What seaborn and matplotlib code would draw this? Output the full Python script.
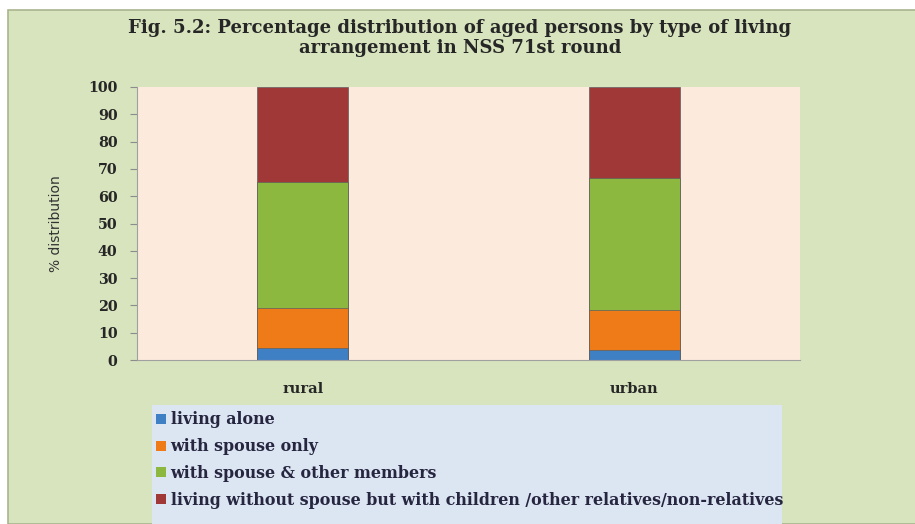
import numpy as np
import pandas as pd
import seaborn as sns
import matplotlib.pyplot as plt
from matplotlib.patches import Rectangle, Patch

# data
sectors = ["rural", "urban"]
living_alone = [4.4, 3.8]
spouse_only = [14.7, 14.5]
spouse_others = [46.2, 48.4]
without_spouse = [34.7, 33.3]

series_names = ["living alone", "with spouse only", "with spouse & other members",
                "living without spouse but with children /other relatives/non-relatives"]
series_colors = ["#3F7FC4", "#EE7A18", "#8CB840", "#A03838"]

sns.set_style("white")
plt.rcParams["font.family"] = ["DejaVu Serif"]

df = pd.DataFrame({"sector": sectors,
                   series_names[0]: living_alone,
                   series_names[1]: spouse_only,
                   series_names[2]: spouse_others,
                   series_names[3]: without_spouse})
cum = df[series_names].cumsum(axis=1)

W, H = 915, 524
fig = plt.figure(figsize=(W / 100, H / 100), dpi=100)
fig.patch.set_facecolor("white")

# green panel behind everything
fig.patches.append(Rectangle((8 / W, 0), 1, 1 - 10 / H, transform=fig.transFigure,
                             facecolor="#D8E4BE", edgecolor="#A9B48F", lw=1.2, zorder=-2))
# legend background
fig.patches.append(Rectangle((152 / W, 0), (782 - 152) / W, (H - 405) / H,
                             transform=fig.transFigure, facecolor="#DCE5F2",
                             edgecolor="none", zorder=-1))

ax = fig.add_axes([137 / W, (H - 360) / H, (800 - 137) / W, (360 - 87) / H])
ax.set_facecolor("#FCEADC")

# stacked bars drawn as overlapping cumulative totals, tallest first
for name, col in reversed(list(zip(series_names, series_colors))):
    sns.barplot(x=df["sector"], y=cum[name], color=col, width=0.275,
                saturation=1, edgecolor="#5e5e5e", linewidth=0.5, ax=ax)

ax.set_ylim(0, 100)
ax.set_yticks(np.arange(0, 101, 10))
ax.tick_params(axis="y", labelsize=10.3, length=5, color="#8c8c8c", left=True, pad=9)
ax.tick_params(axis="x", labelsize=10.5, length=0, pad=16)
for lab in ax.get_yticklabels() + ax.get_xticklabels():
    lab.set_fontweight("bold")
    lab.set_color("#262626")
for s in ["top", "right"]:
    ax.spines[s].set_visible(False)
ax.spines["left"].set_color("#a0a0a0")
ax.spines["bottom"].set_color("#a0a0a0")
ax.set_xlabel("")
ax.set_ylabel("% distribution", fontsize=10, family=["DejaVu Sans"],
              labelpad=18, color="#333333")

fig.text(460 / W, 1 - 28 / H, "Fig. 5.2: Percentage distribution of aged persons by type of living",
         ha="center", va="center", fontsize=13, fontweight="bold", color="#262626")
fig.text(460 / W, 1 - 48 / H, "arrangement in NSS 71st round",
         ha="center", va="center", fontsize=13, fontweight="bold", color="#262626")

handles = [Patch(facecolor=c, edgecolor="none") for c in series_colors]
leg = fig.legend(handles, series_names, loc="upper left",
                 bbox_to_anchor=(150 / W, 1 - 405 / H), frameon=False,
                 handlelength=0.6, handleheight=0.6, handletextpad=0.3,
                 labelspacing=0.62, borderaxespad=0, fontsize=11.4)
for t in leg.get_texts():
    t.set_fontweight("bold")
    t.set_color("#262640")

fig.savefig("out.png", dpi=100)
